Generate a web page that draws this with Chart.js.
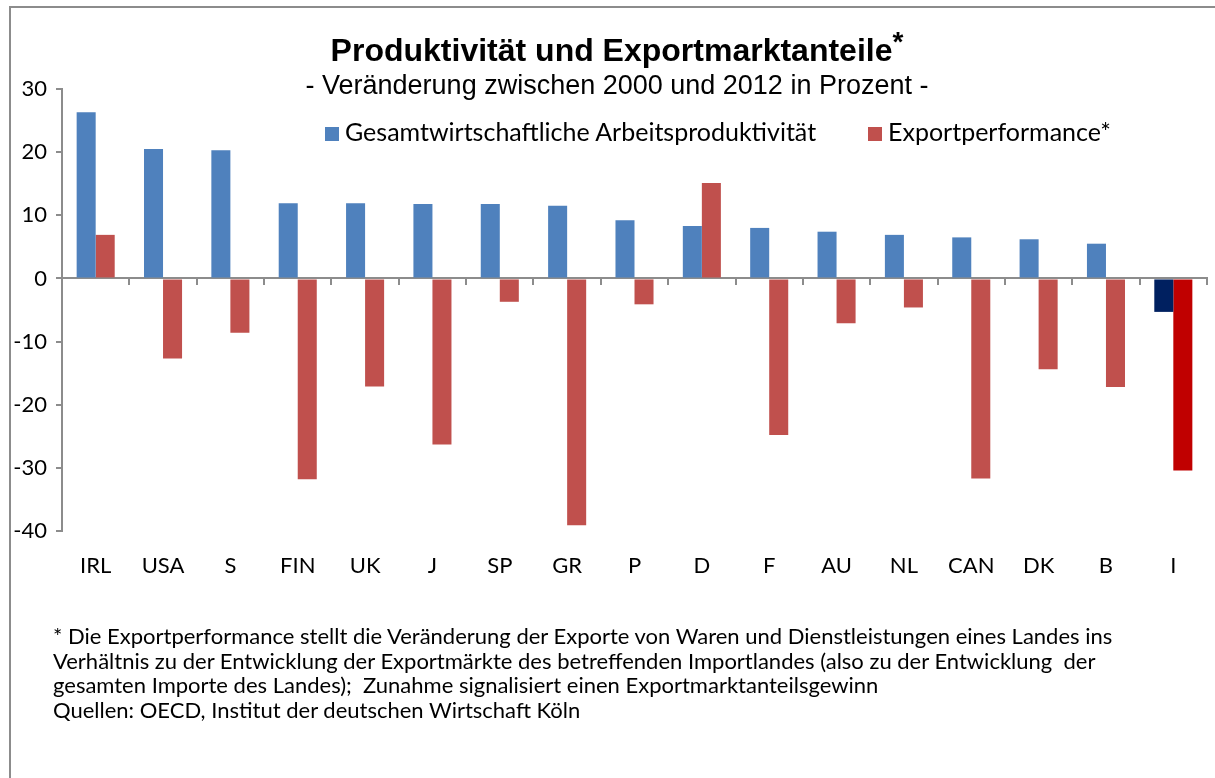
<!DOCTYPE html>
<html lang="de">
<head>
<meta charset="utf-8">
<title>Produktivität und Exportmarktanteile</title>
<script src="https://cdn.jsdelivr.net/npm/chart.js@4"></script>
<style>
  html, body { margin: 0; padding: 0; background: #fff; }
  #wrap { position: relative; width: 1215px; height: 778px; overflow: hidden; }
  #frame { position: absolute; left: 9px; top: 6px; right: -10px; bottom: -10px;
           border-left: 2px solid #8c8c8c; border-top: 2px solid #8c8c8c; }
  canvas { position: absolute; left: 0; top: 0; }
  .title { position: absolute; left: 0; width: 1234px; text-align: center; color: #000;
           font-family: "Liberation Sans", Arial, sans-serif; line-height: 1; white-space: nowrap; }
  #t1 { top: 34px; font-size: 32px; font-weight: bold; }
  #t1 sup { font-size: 28px; position: relative; top: -6px; vertical-align: top; line-height: 1; }
  #t2 { top: 72px; font-size: 27px; }
  .leg { position: absolute; top: 116px; font-family: Lato, "Open Sans", sans-serif; font-size: 25px;
         line-height: 1.2; color: #000; white-space: nowrap; }
  .leg i { display: inline-block; width: 14px; height: 14px; margin-right: 6px; vertical-align: 0px; }
  #note { position: absolute; left: 53px; top: 624px; font-family: Lato, "Open Sans", sans-serif;
          font-size: 22px; line-height: 24.5px; color: #000; white-space: pre; }
</style>
</head>
<body>
<div id="wrap">
  <div id="frame"></div>
  <canvas id="c" width="1215" height="778"></canvas>
  <div class="title" id="t1">Produktivität und Exportmarktanteile<sup>*</sup></div>
  <div class="title" id="t2">- Veränderung zwischen 2000 und 2012 in Prozent -</div>
  <div class="leg" style="left:325px"><i style="background:#4F81BD"></i>Gesamtwirtschaftliche Arbeitsproduktivität</div>
  <div class="leg" style="left:868px"><i style="background:#C0504D"></i>Exportperformance*</div>
  <div id="note">* Die Exportperformance stellt die Veränderung der Exporte von Waren und Dienstleistungen eines Landes ins
Verhältnis zu der Entwicklung der Exportmärkte des betreffenden Importlandes (also zu der Entwicklung  der
gesamten Importe des Landes);  Zunahme signalisiert einen Exportmarktanteilsgewinn
Quellen: OECD, Institut der deutschen Wirtschaft Köln</div>
</div>
<script>
// Länder (Reihenfolge wie im Original)
const laender = ["IRL", "USA", "S", "FIN", "UK", "J", "SP", "GR", "P", "D", "F", "AU", "NL", "CAN", "DK", "B", "I"];

// Veränderung 2000-2012 in Prozent
const produktivitaet = [26.3, 20.5, 20.3, 11.9, 11.9, 11.8, 11.8, 11.5, 9.2, 8.3, 8.0, 7.4, 6.9, 6.5, 6.2, 5.5, -5.3];
const exportperformance = [6.9, -12.7, -8.6, -31.8, -17.1, -26.3, -3.7, -39.1, -4.1, 15.1, -24.8, -7.1, -4.6, -31.7, -14.4, -17.2, -30.4];

const yTicks = [30, 20, 10, 0, -10, -20, -30, -40];

const hervorgehoben = "I";

const BLUE = "#4F81BD";
const RED = "#C0504D";
const NAVY = "#002060";
const DARKRED = "#C00000";
const AXIS = "#8c8c8c";

function farbe(base, highlight) {
  return (ctx) => (laender[ctx.dataIndex] === hervorgehoben ? highlight : base);
}

new Chart(document.getElementById("c"), {
  type: "bar",
  data: {
    labels: laender,
    datasets: [
      {
        label: "Gesamtwirtschaftliche Arbeitsproduktivität",
        data: produktivitaet,
        backgroundColor: farbe(BLUE, NAVY),
        xAxisID: "x",
        yAxisID: "y",
      },
      {
        label: "Exportperformance*",
        data: exportperformance,
        backgroundColor: farbe(RED, DARKRED),
        xAxisID: "x",
        yAxisID: "y",
      },
    ],
  },
  options: {
    responsive: false,
    animation: false,
    devicePixelRatio: 1,
    layout: { padding: { left: 0, right: 8, top: 89, bottom: 187 } },
    datasets: { bar: { barPercentage: 1, categoryPercentage: 0.565, borderWidth: 0 } },
    plugins: { legend: { display: false }, tooltip: { enabled: false }, title: { display: false } },
    scales: {
      x: {
        position: "bottom",
        grid: { display: false, drawTicks: false },
        border: { display: false },
        ticks: {
          color: "#000",
          font: { family: "Lato", size: 22 },
          padding: 22,
          autoSkip: false,
          maxRotation: 0,
        },
        afterFit: (s) => { s.height = 60; },
      },
      x2: {
        type: "category",
        position: { y: 0 },
        offset: true,
        grid: { offset: true, drawOnChartArea: false, drawTicks: true, tickLength: 6, color: AXIS, lineWidth: 2 },
        border: { display: true, color: AXIS, width: 2 },
        ticks: { display: false },
      },
      y: {
        min: -40,
        max: 30,
        afterBuildTicks: (s) => { s.ticks = yTicks.map((v) => ({ value: v })); },
        grid: { drawOnChartArea: false, drawTicks: true, tickLength: 6, tickColor: AXIS, lineWidth: 2 },
        border: { display: true, color: AXIS, width: 2 },
        ticks: { color: "#000", font: { family: "Lato", size: 22 }, padding: 9 },
        afterFit: (s) => { s.width = 62; },
      },
    },
  },
});
</script>
</body>
</html>
